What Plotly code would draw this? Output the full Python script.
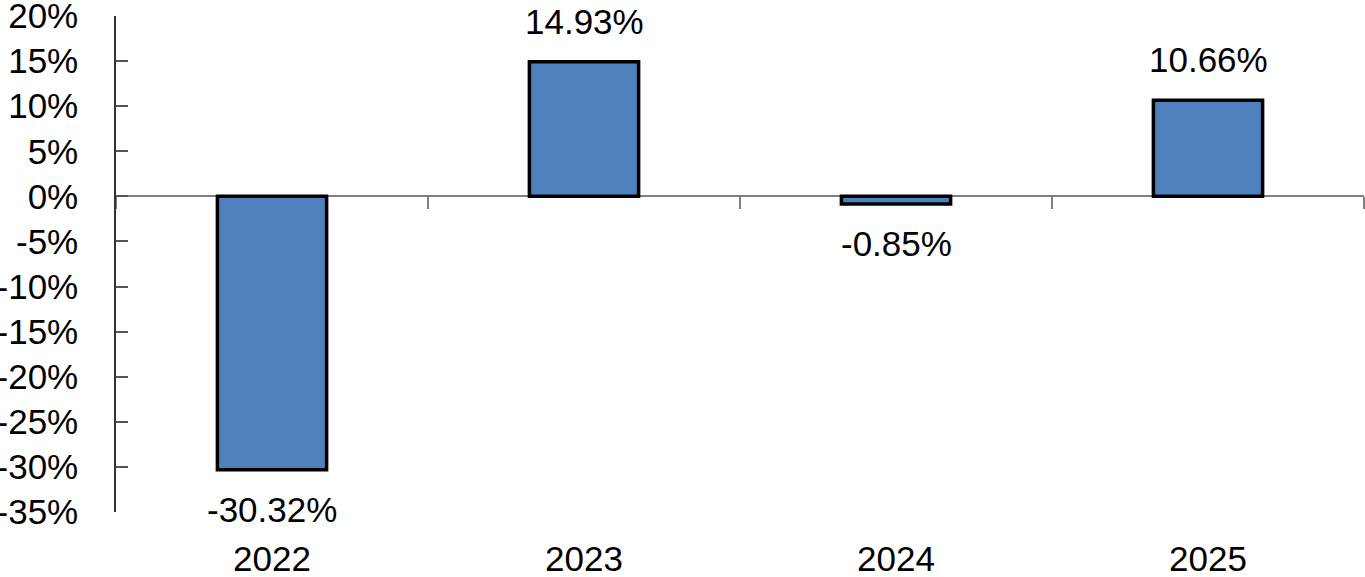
import plotly.graph_objects as go

years = ["2022", "2023", "2024", "2025"]
returns = [-30.32, 14.93, -0.85, 10.66]
labels = ["-30.32%", "14.93%", "-0.85%", "10.66%"]
y_ticks = [20, 15, 10, 5, 0, -5, -10, -15, -20, -25, -30, -35]
y_min, y_max = -35, 20

FONT = "Liberation Sans, Arial, sans-serif"
FS = 35

fig = go.Figure()
fig.add_trace(go.Bar(
    x=years, y=returns, width=0.35,
    marker=dict(color="#4F81BD", line=dict(color="black", width=3.5)),
    hoverinfo="skip", showlegend=False, xaxis="x", yaxis="y",
))
# invisible trace for the zero-line axis
fig.add_trace(go.Scatter(x=years, y=[0]*len(years), mode="markers",
                         marker=dict(opacity=0), showlegend=False,
                         hoverinfo="skip", xaxis="x2", yaxis="y"))

for i, (v, t) in enumerate(zip(returns, labels)):
    fig.add_annotation(x=i, y=v, xref="x", yref="y", text=t, showarrow=False,
                       yanchor="bottom" if v >= 0 else "top",
                       yshift=19 if v >= 0 else -18,
                       font=dict(family=FONT, size=FS, color="black"))

fig.update_layout(
    width=1365, height=577,
    margin=dict(l=116, r=1, t=16, b=65, autoexpand=False),
    paper_bgcolor="white", plot_bgcolor="white",
    font=dict(family=FONT, size=FS, color="black"),
    xaxis=dict(type="category", categoryorder="array", categoryarray=years,
               range=[-0.5, 3.5], showgrid=False, zeroline=False,
               showline=False, ticks="", automargin=False,
               ticklabelstandoff=23,
               tickfont=dict(family=FONT, size=FS, color="black")),
    xaxis2=dict(type="category", categoryorder="array", categoryarray=years,
                overlaying="x", range=[-0.5, 3.5], anchor="free",
                position=(0 - y_min) / (y_max - y_min),
                showline=True, linecolor="#7f7f7f", linewidth=1.5,
                ticks="outside", tickson="boundaries", ticklen=12,
                tickcolor="#7f7f7f", tickwidth=1.5, automargin=False,
                layer="below traces",
                showticklabels=False, showgrid=False, zeroline=False),
    yaxis=dict(range=[y_min, y_max], tickvals=y_ticks,
               ticktext=[f"{v}%" for v in y_ticks],
               showgrid=False, zeroline=False, automargin=False,
               showline=True, linecolor="#333333", linewidth=1.5,
               ticks="inside", ticklen=12, tickcolor="#555555", tickwidth=1.5,
               ticklabeloverflow="allow", ticklabelstandoff=29,
               tickfont=dict(family=FONT, size=FS, color="black")),
)

fig.write_html("out.html", config={"displayModeBar": False},
               post_script="document.body.style.margin='0';document.body.style.padding='0';")
